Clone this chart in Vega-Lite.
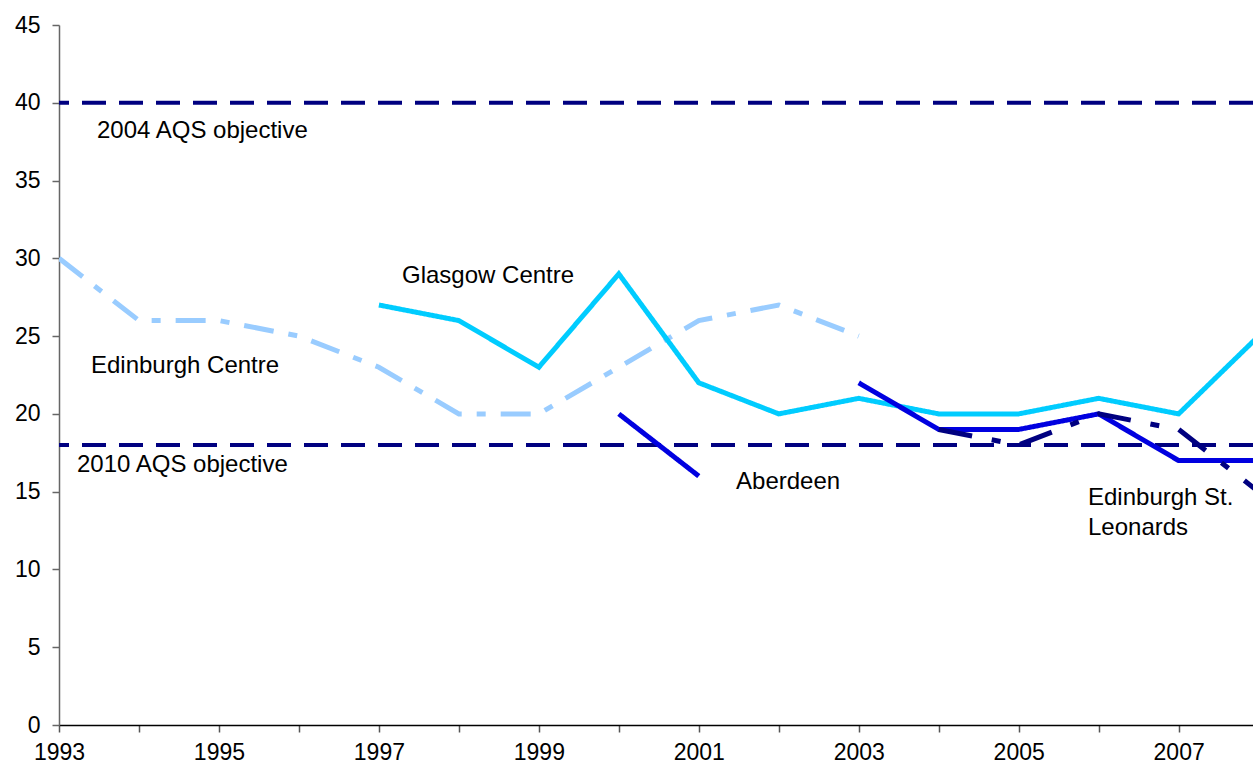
{
  "$schema": "https://vega.github.io/schema/vega-lite/v6.json",
  "width": 1194,
  "height": 700,
  "autosize": {"type": "none"},
  "padding": {"left": 59, "top": 25, "right": 0, "bottom": 46},
  "background": "#ffffff",
  "config": {"view": {"stroke": null}, "font": "Liberation Sans", "text": {"fill": "#000000", "fontSize": 24, "font": "Liberation Sans", "align": "left", "baseline": "alphabetic"}},
  "data": {
    "values": [
      {"year": 1993, "site": "Edinburgh Centre", "value": 30},
      {"year": 1994, "site": "Edinburgh Centre", "value": 26},
      {"year": 1995, "site": "Edinburgh Centre", "value": 26},
      {"year": 1996, "site": "Edinburgh Centre", "value": 25},
      {"year": 1997, "site": "Edinburgh Centre", "value": 23},
      {"year": 1998, "site": "Edinburgh Centre", "value": 20},
      {"year": 1999, "site": "Edinburgh Centre", "value": 20},
      {"year": 2000, "site": "Edinburgh Centre", "value": 23},
      {"year": 2001, "site": "Edinburgh Centre", "value": 26},
      {"year": 2002, "site": "Edinburgh Centre", "value": 27},
      {"year": 2003, "site": "Edinburgh Centre", "value": 25},
      {"year": 1997, "site": "Glasgow Centre", "value": 27},
      {"year": 1998, "site": "Glasgow Centre", "value": 26},
      {"year": 1999, "site": "Glasgow Centre", "value": 23},
      {"year": 2000, "site": "Glasgow Centre", "value": 29},
      {"year": 2001, "site": "Glasgow Centre", "value": 22},
      {"year": 2002, "site": "Glasgow Centre", "value": 20},
      {"year": 2003, "site": "Glasgow Centre", "value": 21},
      {"year": 2004, "site": "Glasgow Centre", "value": 20},
      {"year": 2005, "site": "Glasgow Centre", "value": 20},
      {"year": 2006, "site": "Glasgow Centre", "value": 21},
      {"year": 2007, "site": "Glasgow Centre", "value": 20},
      {"year": 2008, "site": "Glasgow Centre", "value": 25},
      {"year": 2000, "site": "Aberdeen", "value": 20},
      {"year": 2001, "site": "Aberdeen", "value": 16},
      {"year": 2002, "site": "Aberdeen", "value": null},
      {"year": 2003, "site": "Aberdeen", "value": 22},
      {"year": 2004, "site": "Aberdeen", "value": 19},
      {"year": 2005, "site": "Aberdeen", "value": 19},
      {"year": 2006, "site": "Aberdeen", "value": 20},
      {"year": 2007, "site": "Aberdeen", "value": 17},
      {"year": 2008, "site": "Aberdeen", "value": 17},
      {"year": 2004, "site": "Edinburgh St. Leonards", "value": 19},
      {"year": 2005, "site": "Edinburgh St. Leonards", "value": 18},
      {"year": 2006, "site": "Edinburgh St. Leonards", "value": 20},
      {"year": 2007, "site": "Edinburgh St. Leonards", "value": 19},
      {"year": 2008, "site": "Edinburgh St. Leonards", "value": 15}
    ]
  },
  "layer": [
    {
      "data": {"values": [{}]},
      "mark": {"type": "rule", "color": "#000080", "strokeWidth": 4, "strokeDash": [24, 13]},
      "encoding": {"y": {"datum": 40, "type": "quantitative"}}
    },
    {
      "data": {"values": [{}]},
      "mark": {"type": "rule", "color": "#000080", "strokeWidth": 4, "strokeDash": [24, 13]},
      "encoding": {"y": {"datum": 18, "type": "quantitative"}}
    },
    {
      "mark": {"type": "line", "strokeWidth": 5, "clip": true, "invalid": "break-paths-show-domains"},
      "encoding": {
        "x": {
          "field": "year",
          "type": "quantitative",
          "scale": {"domain": [1993, 2007.93], "nice": false, "zero": false},
          "axis": {
            "title": null,
            "values": [1993, 1994, 1995, 1996, 1997, 1998, 1999, 2000, 2001, 2002, 2003, 2004, 2005, 2006, 2007],
            "format": "d",
            "labelExpr": "datum.value % 2 == 1 ? datum.label : ''",
            "grid": false,
            "domainColor": "#000000",
            "domainWidth": 1.5,
            "tickColor": "#555555",
            "tickSize": 7,
            "tickWidth": 1.5,
            "labelFontSize": 23,
            "labelColor": "#000000",
            "labelPadding": 9,
            "labelFont": "Liberation Sans",
            "labelOverlap": false,
            "labelFlush": false
          }
        },
        "y": {
          "field": "value",
          "type": "quantitative",
          "scale": {"domain": [0, 45], "nice": false},
          "axis": {
            "title": null,
            "values": [0, 5, 10, 15, 20, 25, 30, 35, 40, 45],
            "grid": false,
            "domainColor": "#666666",
            "domainWidth": 1.5,
            "tickColor": "#666666",
            "tickSize": 7,
            "tickWidth": 1.5,
            "labelFontSize": 23,
            "labelColor": "#000000",
            "labelPadding": 12,
            "labelFont": "Liberation Sans"
          }
        },
        "color": {
          "field": "site",
          "type": "nominal",
          "scale": {
            "domain": ["Edinburgh Centre", "Glasgow Centre", "Aberdeen", "Edinburgh St. Leonards"],
            "range": ["#99CCFF", "#00CCFF", "#0000E0", "#000080"]
          },
          "legend": null
        },
        "strokeDash": {
          "field": "site",
          "type": "nominal",
          "scale": {
            "domain": ["Edinburgh Centre", "Glasgow Centre", "Aberdeen", "Edinburgh St. Leonards"],
            "range": [[30, 15, 9, 15], [1, 0], [1, 0], [34, 20, 9, 20]]
          },
          "legend": null
        }
      }
    },
    {
      "data": {"values": [{}]},
      "mark": {"type": "text", "text": "2004 AQS objective"},
      "encoding": {"x": {"datum": 1993.475, "type": "quantitative"}, "y": {"datum": 37.73, "type": "quantitative"}}
    },
    {
      "data": {"values": [{}]},
      "mark": {"type": "text", "text": "2010 AQS objective"},
      "encoding": {"x": {"datum": 1993.225, "type": "quantitative"}, "y": {"datum": 16.26, "type": "quantitative"}}
    },
    {
      "data": {"values": [{}]},
      "mark": {"type": "text", "text": "Edinburgh Centre"},
      "encoding": {"x": {"datum": 1993.4, "type": "quantitative"}, "y": {"datum": 22.63, "type": "quantitative"}}
    },
    {
      "data": {"values": [{}]},
      "mark": {"type": "text", "text": "Glasgow Centre"},
      "encoding": {"x": {"datum": 1997.289, "type": "quantitative"}, "y": {"datum": 28.41, "type": "quantitative"}}
    },
    {
      "data": {"values": [{}]},
      "mark": {"type": "text", "text": "Aberdeen"},
      "encoding": {"x": {"datum": 2001.466, "type": "quantitative"}, "y": {"datum": 15.17, "type": "quantitative"}}
    },
    {
      "data": {"values": [{}]},
      "mark": {"type": "text", "text": "Edinburgh St."},
      "encoding": {"x": {"datum": 2005.867, "type": "quantitative"}, "y": {"datum": 14.14, "type": "quantitative"}}
    },
    {
      "data": {"values": [{}]},
      "mark": {"type": "text", "text": "Leonards"},
      "encoding": {"x": {"datum": 2005.867, "type": "quantitative"}, "y": {"datum": 12.21, "type": "quantitative"}}
    }
  ]
}
